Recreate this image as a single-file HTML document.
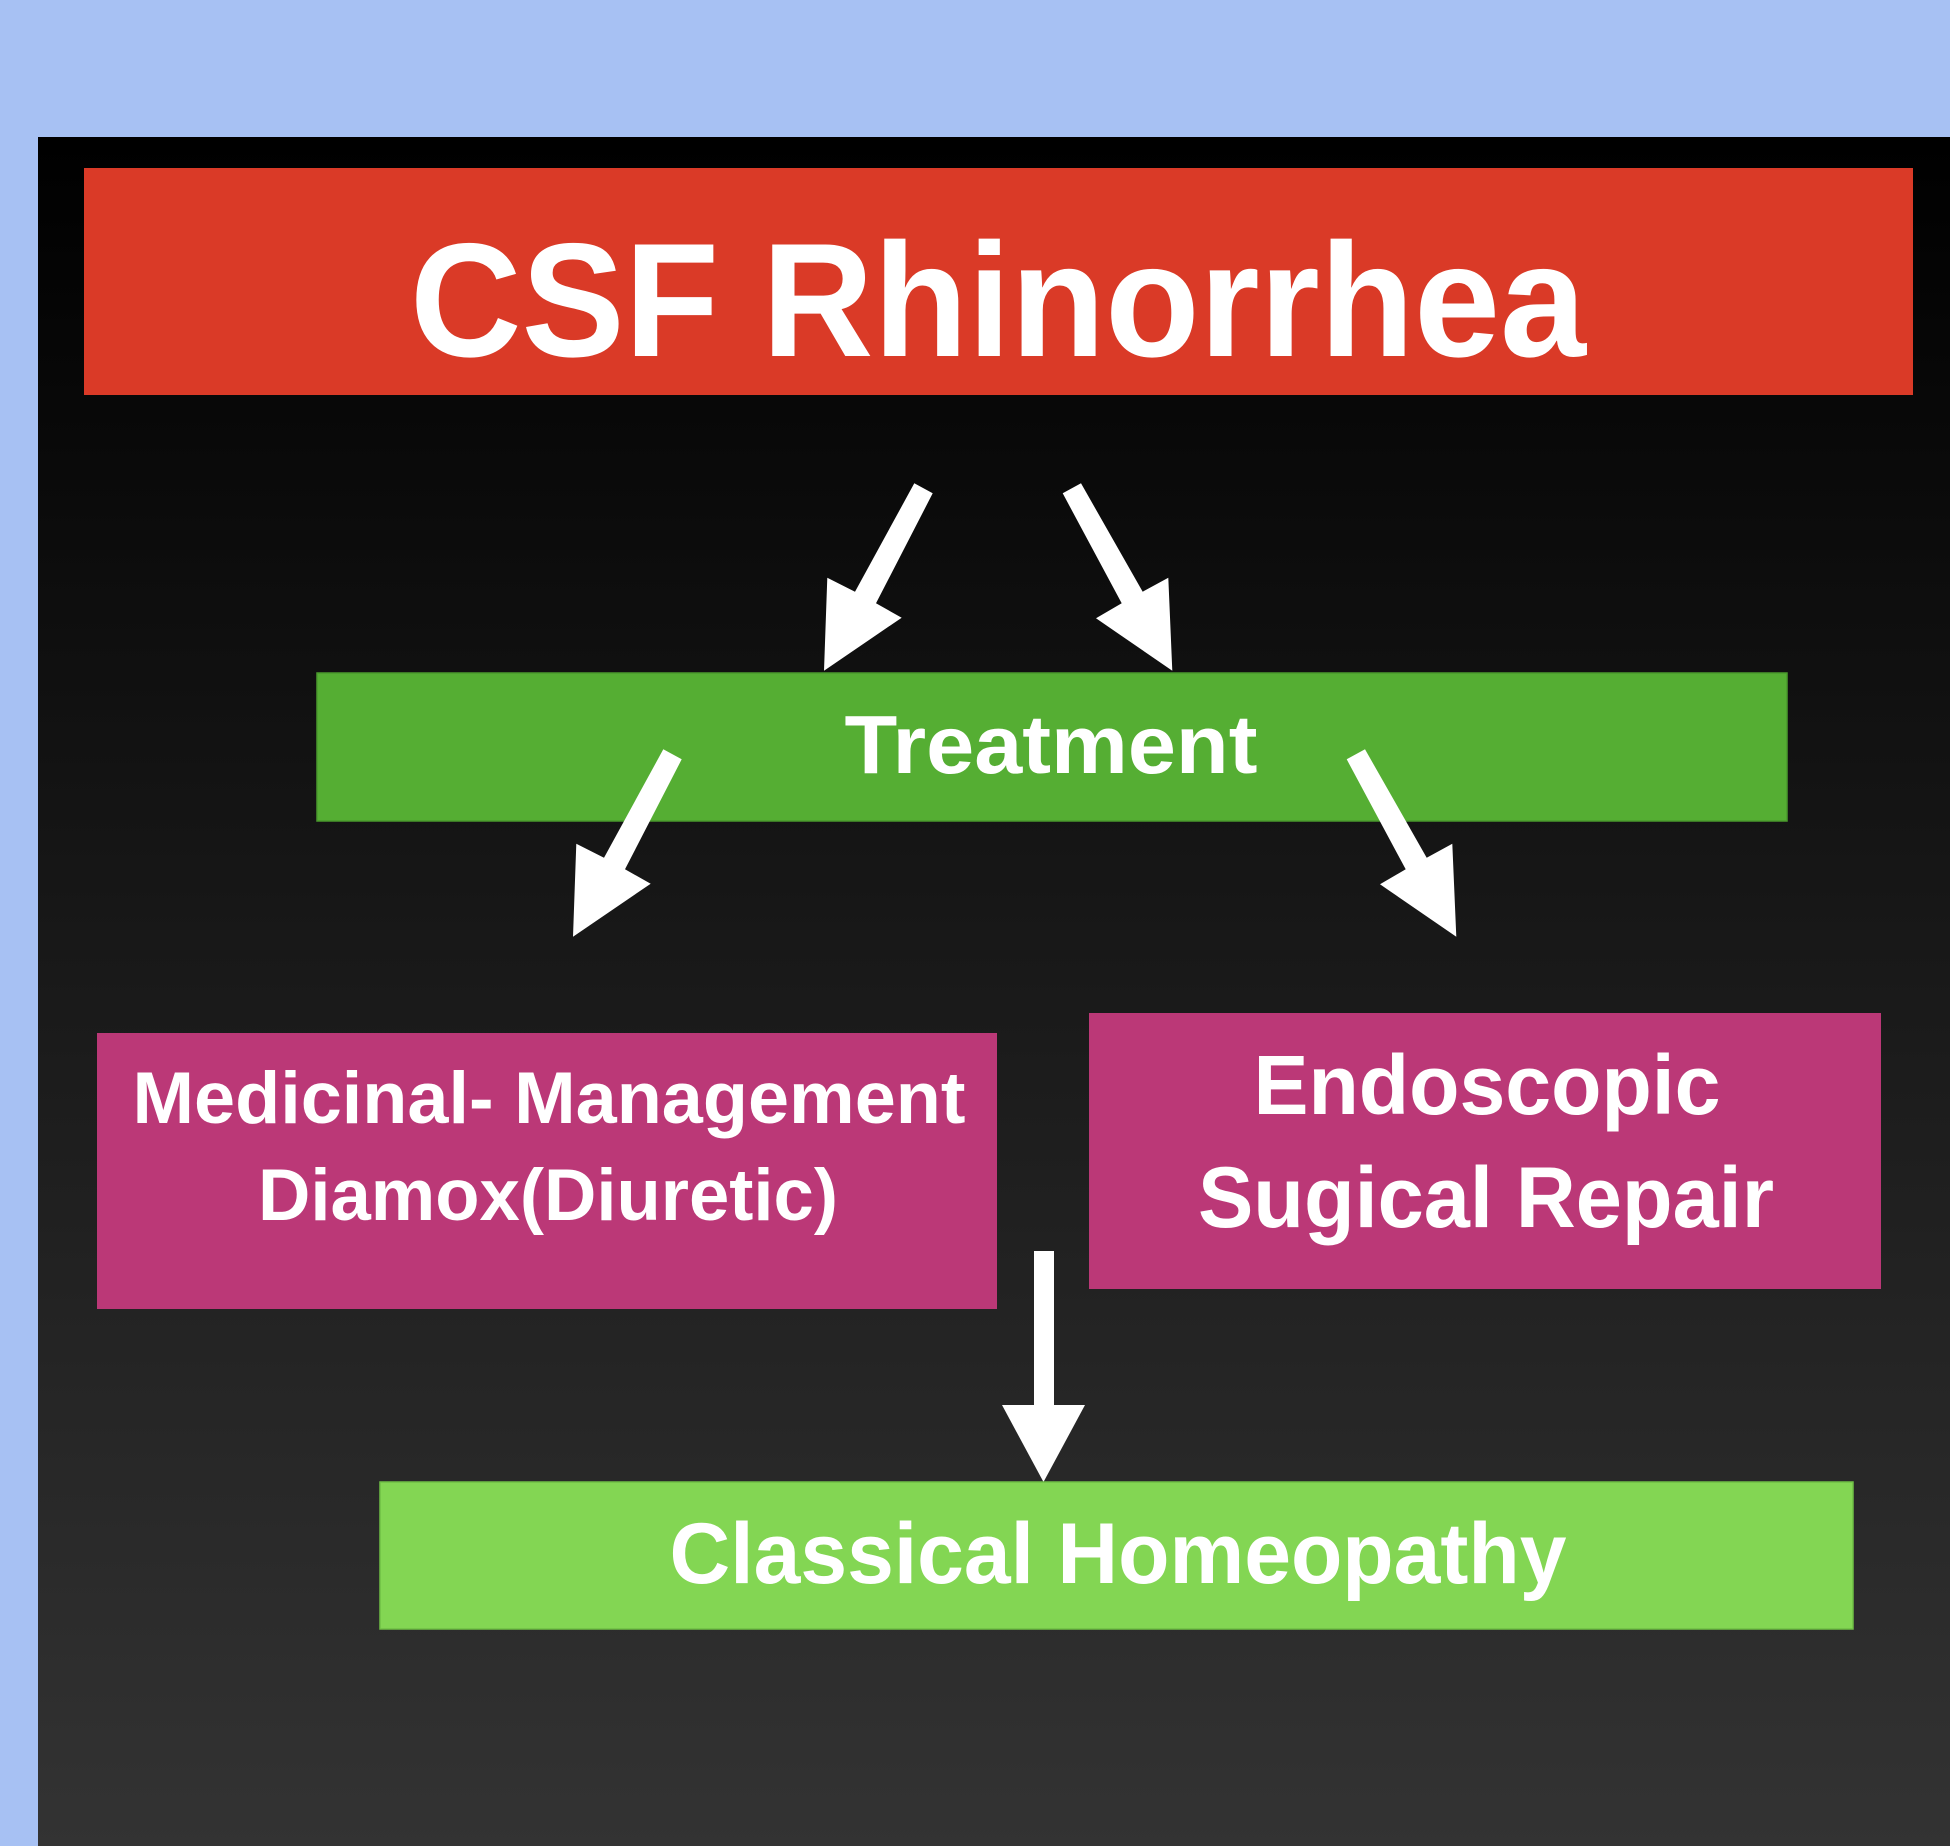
<!DOCTYPE html>
<html>
<head>
<meta charset="utf-8">
<style>
  html, body { margin: 0; padding: 0; background: #a7c1f3; }
  svg { display: block; }
  text { font-family: "Liberation Sans", Arial, sans-serif; font-weight: bold; fill: #ffffff; }
</style>
</head>
<body>
<svg width="1950" height="1846" viewBox="0 0 1950 1846" xmlns="http://www.w3.org/2000/svg">
  <defs>
    <linearGradient id="panelGrad" x1="0" y1="0" x2="0" y2="1">
      <stop offset="0" stop-color="#000000"/>
      <stop offset="1" stop-color="#333333"/>
    </linearGradient>
  </defs>

  <!-- background -->
  <rect x="0" y="0" width="1950" height="1846" fill="#a7c1f3"/>
  <rect x="38" y="137" width="1912" height="1709" fill="url(#panelGrad)"/>

  <!-- Title box -->
  <rect x="84" y="168" width="1829" height="227" fill="#da3a27"/>
  <text x="998" y="356" font-size="162" text-anchor="middle" textLength="1176" lengthAdjust="spacingAndGlyphs">CSF Rhinorrhea</text>

  <!-- Top arrows -->
  <polygon fill="#ffffff" points="914.3,483.3 932.7,493.3 876,603.3 901.7,617.7 824,670.7 827.3,577.7 855,591.7"/>
  <polygon fill="#ffffff" points="1081,483.3 1142.7,591.7 1168.3,577.7 1172.3,670.7 1096,618.3 1121.7,603.3 1062.7,493.3"/>

  <!-- Treatment box -->
  <rect x="317" y="673" width="1470" height="148" fill="#55ae33" stroke="#4a9a2c" stroke-width="1.5"/>
  <text x="1051" y="773" font-size="83" text-anchor="middle" textLength="413" lengthAdjust="spacingAndGlyphs">Treatment</text>

  <!-- Second arrows -->
  <g transform="translate(-251,266)">
    <polygon fill="#ffffff" points="914.3,483.3 932.7,493.3 876,603.3 901.7,617.7 824,670.7 827.3,577.7 855,591.7"/>
  </g>
  <g transform="translate(284,266)">
    <polygon fill="#ffffff" points="1081,483.3 1142.7,591.7 1168.3,577.7 1172.3,670.7 1096,618.3 1121.7,603.3 1062.7,493.3"/>
  </g>

  <!-- Left magenta box -->
  <rect x="97" y="1033" width="900" height="276" fill="#bb3877"/>
  <text x="549" y="1123" font-size="73" text-anchor="middle" textLength="833" lengthAdjust="spacingAndGlyphs">Medicinal- Management</text>
  <text x="548" y="1220" font-size="73" text-anchor="middle" textLength="580" lengthAdjust="spacingAndGlyphs">Diamox(Diuretic)</text>

  <!-- Right magenta box -->
  <rect x="1089" y="1013" width="792" height="276" fill="#bb3877"/>
  <text x="1487" y="1114" font-size="84" text-anchor="middle" textLength="467" lengthAdjust="spacingAndGlyphs">Endoscopic</text>
  <text x="1486" y="1227" font-size="86" text-anchor="middle" textLength="576" lengthAdjust="spacingAndGlyphs">Sugical Repair</text>

  <!-- Vertical arrow -->
  <rect x="1034" y="1251" width="20" height="156" fill="#ffffff"/>
  <polygon fill="#ffffff" points="1002,1405 1085,1405 1043.5,1482"/>

  <!-- Classical Homeopathy box -->
  <rect x="380" y="1482" width="1473" height="147" fill="#83d653" stroke="#6fbf45" stroke-width="1.5"/>
  <text x="1118" y="1583" font-size="86" text-anchor="middle" textLength="897" lengthAdjust="spacingAndGlyphs">Classical Homeopathy</text>
</svg>
</body>
</html>
